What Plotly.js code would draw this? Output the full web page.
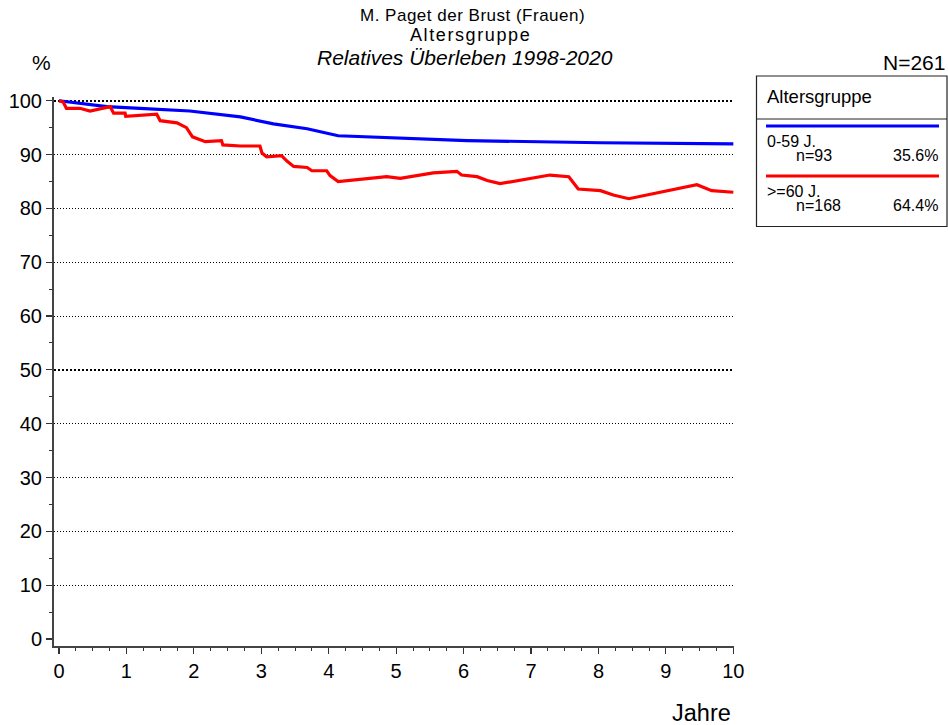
<!DOCTYPE html>
<html>
<head>
<meta charset="utf-8">
<script src="https://cdn.plot.ly/plotly-3.0.1.min.js"></script>
<style>html,body{margin:0;padding:0;background:#fff;}#chart{width:948px;height:725px;}</style>
</head>
<body>
<div id="chart"></div>
<script>
// ---- data ----
const yearsYoung = [0, 0.3, 0.71, 1.2, 1.94, 2.69, 3.18, 3.68, 4.14, 6.05, 8.03, 10.0];
const survYoung  = [100, 99.5, 98.9, 98.6, 98.1, 97.0, 95.7, 94.8, 93.5, 92.6, 92.2, 92.0];

const yearsOld = [0, 0.06, 0.11, 0.31, 0.46, 0.76, 0.81, 0.98, 0.99, 1.45, 1.50, 1.75, 1.89, 1.98, 2.17, 2.41, 2.43, 2.69, 2.98, 3.01, 3.08, 3.30, 3.38, 3.48, 3.68, 3.75, 3.97, 4.02, 4.14, 4.57, 4.86, 5.06, 5.55, 5.90, 5.97, 6.20, 6.35, 6.54, 7.28, 7.56, 7.70, 8.03, 8.22, 8.45, 9.46, 9.68, 10.0];
const survOld  = [100, 99.8, 98.6, 98.6, 98.1, 98.9, 97.7, 97.7, 97.1, 97.5, 96.3, 95.9, 95.0, 93.3, 92.4, 92.6, 91.8, 91.6, 91.6, 90.3, 89.6, 89.8, 88.8, 87.8, 87.6, 87.0, 87.0, 86.1, 85.0, 85.6, 85.9, 85.6, 86.6, 86.9, 86.2, 85.9, 85.2, 84.6, 86.2, 85.9, 83.6, 83.3, 82.5, 81.8, 84.4, 83.3, 83.0];

const xTicks = [0,1,2,3,4,5,6,7,8,9,10];
const yTicks = [0,10,20,30,40,50,60,70,80,90,100];
const gridThin = [10,20,30,40,60,70,80,90];
const gridBold = [50,100];

const groups = ["0-59 J.", ">=60 J."];
const groupN = ["n=93", "n=168"];
const groupPct = ["35.6%", "64.4%"];
const groupColors = ["#0000ff", "#ff0000"];

// ---- layout helpers (pixel -> paper) ----
const L = 54, R = 214, T = 97, B = 79, W = 948, H = 725;
const pw = W - L - R, ph = H - T - B;
const px = p => (p - L) / pw;
const py = p => (H - B - p) / ph;
const FONT = "Liberation Sans, Arial, sans-serif";
const yRange = [-1.3, 100.7];

const traces = [
  {x: [null], y: [null], yaxis: 'y2', showlegend: false, hoverinfo: 'skip', mode: 'lines'},
  {x: [null], y: [null], yaxis: 'y3', showlegend: false, hoverinfo: 'skip', mode: 'lines'},
  {x: yearsYoung, y: survYoung, mode: 'lines', line: {color: groupColors[0], width: 3.2}, showlegend: false, name: groups[0]},
  {x: yearsOld, y: survOld, mode: 'lines', line: {color: groupColors[1], width: 3.2}, showlegend: false, name: groups[1]}
];

const ann = [];
function A(text, x, y, size, xanchor, extra) {
  ann.push(Object.assign({text: text, x: px(x), y: py(y), xref: 'paper', yref: 'paper',
    xanchor: xanchor, yanchor: 'middle', showarrow: false, borderpad: 0,
    font: {family: FONT, size: size, color: '#000'}}, extra || {}));
}
A("<span style='letter-spacing:0.5px'>M. Paget der Brust (Frauen)</span>", 472, 15.8, 17, 'center');
A("<span style='letter-spacing:1.6px'>Altersgruppe</span>", 470, 35.3, 18, 'center');
A("<i>Relatives Überleben 1998-2020</i>", 465, 58, 21, 'center');
A("%", 41, 62, 21, 'center');
A("N=261", 946, 62, 21, 'right');
A("Jahre", 732, 713, 23.5, 'right');
// legend
A("Altersgruppe", 766, 96, 18.5, 'left');
const rowY = [141.5, 191.5];
for (let i = 0; i < groups.length; i++) {
  A(groups[i], 766, rowY[i], 16, 'left');
  A(groupN[i], 795, rowY[i] + 13.5, 16, 'left');
  A(groupPct[i], 939, rowY[i] + 13.5, 16, 'right');
}

const shapes = [
  {type: 'rect', xref: 'paper', yref: 'paper', x0: px(756.5), x1: px(947), y0: py(226.5), y1: py(76), line: {color: '#222', width: 1.2}},
  {type: 'line', xref: 'paper', yref: 'paper', x0: px(756.5), x1: px(947), y0: py(119), y1: py(119), line: {color: '#222', width: 1.2}},
  {type: 'line', xref: 'paper', yref: 'paper', x0: px(766), x1: px(939), y0: py(126), y1: py(126), line: {color: groupColors[0], width: 3.2}},
  {type: 'line', xref: 'paper', yref: 'paper', x0: px(766), x1: px(939), y0: py(176), y1: py(176), line: {color: groupColors[1], width: 3.2}}
];

const layout = {
  width: W, height: H,
  margin: {l: L, r: R, t: T, b: B, pad: 0},
  paper_bgcolor: '#fff', plot_bgcolor: '#fff',
  font: {family: FONT, size: 20, color: '#000'},
  showlegend: false,
  xaxis: {
    range: [-0.074, 10.01], tickvals: xTicks, ticktext: xTicks.map(String),
    ticks: 'outside', ticklen: 6, tickwidth: 1.2, tickcolor: '#333',
    showline: true, linecolor: '#444', linewidth: 2, mirror: false,
    showgrid: false, zeroline: false,
    tickfont: {family: FONT, size: 20, color: '#000'},
    minor: {dtick: 0.25, tick0: 0, ticks: 'outside', ticklen: 3, tickwidth: 1, tickcolor: '#333', showgrid: false}
  },
  yaxis: {
    range: yRange, tickvals: yTicks, ticktext: yTicks.map(String),
    ticks: 'outside', ticklen: 6, tickwidth: 1.2, tickcolor: '#333',
    showline: true, linecolor: '#444', linewidth: 2,
    showgrid: false, zeroline: false,
    tickfont: {family: FONT, size: 20, color: '#000'},
    minor: {dtick: 5, tick0: 0, ticks: 'outside', ticklen: 3, tickwidth: 1, tickcolor: '#333', showgrid: false}
  },
  yaxis2: {
    overlaying: 'y', range: yRange, tickvals: gridThin, showticklabels: false, ticks: '',
    showgrid: true, gridcolor: '#000', gridwidth: 1, griddash: '1px,2px',
    showline: false, zeroline: false
  },
  yaxis3: {
    overlaying: 'y', range: yRange, tickvals: gridBold, showticklabels: false, ticks: '',
    showgrid: true, gridcolor: '#000', gridwidth: 2, griddash: '2px,2px',
    showline: false, zeroline: false
  },
  annotations: ann,
  shapes: shapes
};

Plotly.newPlot('chart', traces, layout, {staticPlot: true, displayModeBar: false});
</script>
</body>
</html>
